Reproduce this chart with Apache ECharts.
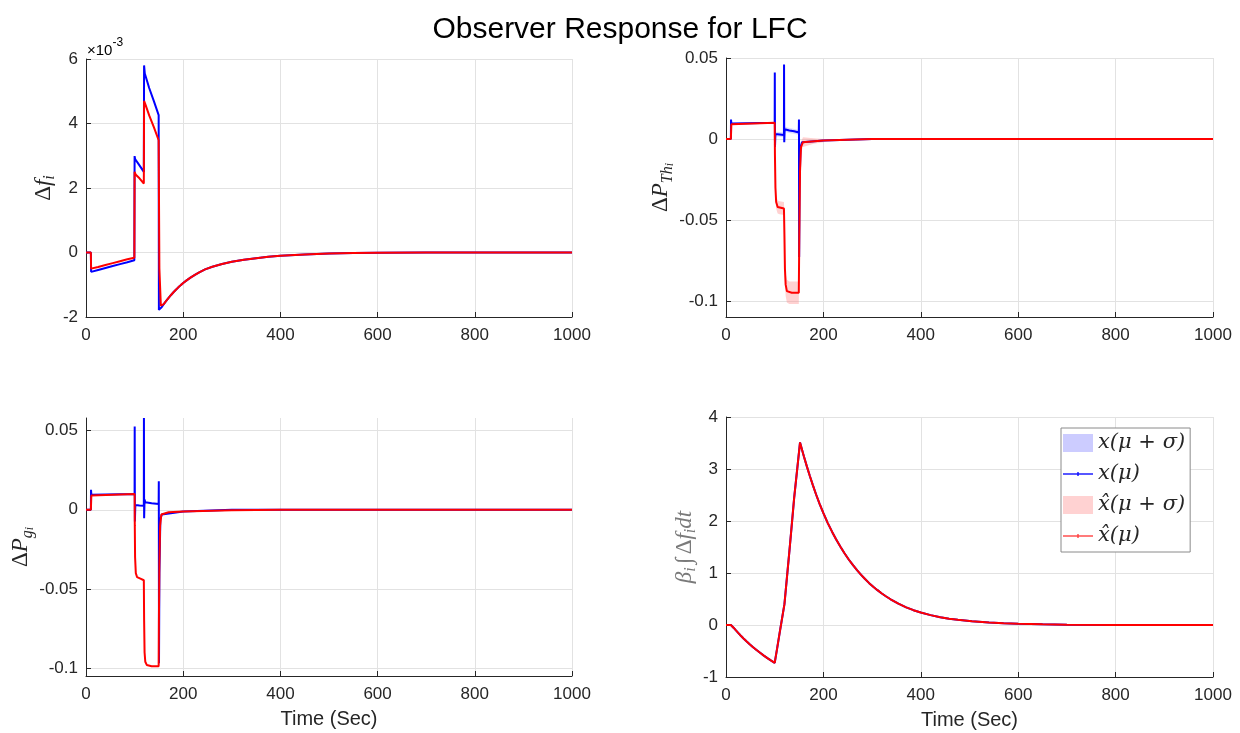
<!DOCTYPE html>
<html>
<head>
<meta charset="utf-8">
<title>Observer Response for LFC</title>
<script src="https://cdn.jsdelivr.net/npm/echarts@6/dist/echarts.min.js"></script>
<style>
  html, body { margin: 0; padding: 0; background: #ffffff; }
  #chart { width: 1240px; height: 733px; }
</style>
</head>
<body>
<div id="chart"></div>
<script>
// ---------- data: [time (s), value] ----------

// Frequency deviation, in units of 1e-3
const freqTrue = [[0,0],[10,0],[10.5,-0.6],[25,-0.54],[40,-0.48],[55,-0.42],[70,-0.36],[85,-0.30],[99.5,-0.24],
  [100,2.99],[101,2.9],[103,2.85],[110,2.7],[119,2.5],[119.5,5.8],[121,5.55],[130,5.1],[140,4.68],[149.5,4.26],
  [150,-1.78],[152,-1.76],[156,-1.69],[160,-1.603],[165,-1.50],[170,-1.406],[175,-1.317],[180,-1.233],[185,-1.154],
  [190,-1.081],[195,-1.012],[200,-0.948],[207,-0.864],[215,-0.778],[224,-0.692],[233,-0.614],[245,-0.523],
  [260,-0.44],[280,-0.355],[300,-0.29],[325,-0.225],[350,-0.175],[375,-0.135],[400,-0.104],[450,-0.06],
  [500,-0.034],[550,-0.019],[600,-0.01],[700,-0.003],[800,0],[1000,0]];
const freqEst = [[0,0],[10,0],[10.5,-0.5],[25,-0.45],[40,-0.39],[55,-0.33],[70,-0.27],[85,-0.21],[99.5,-0.16],
  [100,2.5],[102,2.42],[110,2.3],[119,2.14],[119.5,4.7],[122,4.6],[130,4.25],[140,3.87],[149.5,3.48],
  [151,-0.5],[154,-1.65],[156,-1.69],[160,-1.603],[165,-1.50],[170,-1.406],[175,-1.317],[180,-1.233],[185,-1.154],
  [190,-1.081],[195,-1.012],[200,-0.948],[207,-0.864],[215,-0.778],[224,-0.692],[233,-0.614],[245,-0.523],
  [260,-0.44],[280,-0.355],[300,-0.29],[325,-0.225],[350,-0.175],[375,-0.135],[400,-0.104],[450,-0.06],
  [500,-0.034],[550,-0.019],[600,-0.01],[700,-0.003],[800,0],[1000,0]];

// Turbine output deviation
const turbTrue = [[0,0],[10,0],[10.3,0.012],[11,0.0095],[13,0.01],[100,0.01],[100.2,0.041],[100.6,-0.005],
  [101.5,0.003],[110,0.0028],[119,0.0025],[119.2,0.046],[119.6,-0.002],[120.5,0.006],[130,0.0052],[140,0.0047],
  [149.5,0.004],[149.8,0.012],[150.2,-0.073],[151,-0.03],[153,-0.005],[156,-0.002],[200,-0.001],[300,0],[1000,0]];
const turbEst = [[0,0],[10,0],[11,0.009],[13,0.01],[100,0.01],[100.5,-0.01],[101.5,-0.03],[103,-0.039],[106,-0.042],
  [119,-0.043],[120,-0.06],[121,-0.08],[122.5,-0.09],[125,-0.094],[135,-0.095],[149.5,-0.095],[150.5,-0.06],
  [152,-0.02],[154,-0.005],[158,-0.002],[200,-0.001],[300,0],[1000,0]];

// Turbine output spread (mean ± sigma)
const turbEstBandT  = [100,101,103,106,110,119,120,121,122.5,125,130,135,140,145,149.5,150.5,152,154,158,180,200];
const turbEstBandHi = [0.012,-0.024,-0.035,-0.038,-0.0385,-0.039,-0.055,-0.073,-0.083,-0.087,-0.088,-0.088,-0.088,-0.088,-0.088,-0.052,-0.016,-0.002,0.001,0.0005,0];
const turbEstBandLo = [0.008,-0.032,-0.043,-0.046,-0.0465,-0.047,-0.065,-0.087,-0.097,-0.101,-0.102,-0.102,-0.102,-0.102,-0.102,-0.068,-0.024,-0.008,-0.005,-0.003,-0.002];
const turbTrueBandT  = [101.5,110,119,120.5,130,140,149.5];
const turbTrueBandHi = [0.0045,0.0043,0.004,0.0075,0.0067,0.0062,0.0055];
const turbTrueBandLo = [0.0015,0.0013,0.001,0.0045,0.0037,0.0032,0.0025];

// Governor output deviation
const govTrue = [[0,0],[10,0],[10.3,0.0127],[11,0.0095],[13,0.01],[100,0.01],[100.2,0.0527],[100.6,-0.0074],
  [101.5,0.003],[110,0.0027],[119,0.0025],[119.2,0.058],[119.6,-0.0053],[120.5,0.0065],[122,0.0048],[135,0.0042],
  [149.5,0.0036],[149.8,0.018],[150.2,-0.097],[151,-0.04],[153,-0.006],[156,-0.003],[200,-0.001],[300,0],[1000,0]];
const govEst = [[0,0],[10,0],[11,0.009],[13,0.01],[100,0.01],[100.4,-0.01],[101,-0.03],[102.5,-0.040],[105,-0.0425],
  [112,-0.0435],[119,-0.0445],[119.6,-0.07],[120.5,-0.09],[122,-0.096],[125,-0.098],[135,-0.0988],[149.5,-0.0988],
  [150,-0.07],[151,-0.035],[152.5,-0.01],[155,-0.003],[170,-0.0015],[200,-0.001],[300,-0.0003],[400,0],[1000,0]];

// Integral of frequency deviation
const integState = [[0,0],[10,0],[13,-0.025],[16,-0.057],[20,-0.10],[25,-0.152],[30,-0.202],[36,-0.259],[42,-0.313],
  [48,-0.365],[55,-0.422],[62,-0.476],[70,-0.535],[77,-0.584],[85,-0.637],[92,-0.681],[100,-0.729],[105,-0.45],
  [110,-0.16],[115,0.12],[120,0.4],[125,0.9],[130,1.4],[135,1.92],[140,2.45],[146,2.98],[152,3.51],[160,3.24],
  [166,3.05],[172,2.87],[178,2.70],[185,2.51],[192,2.335],[200,2.15],[209,1.96],[218,1.79],[226,1.65],[235,1.505],
  [243,1.385],[252,1.26],[260,1.16],[269,1.055],[277,0.97],[285,0.89],[294,0.805],[303,0.73],[311,0.67],[320,0.605],
  [329,0.548],[338,0.495],[354,0.41],[370,0.34],[385,0.285],[400,0.24],[420,0.19],[440,0.15],[458,0.122],[476,0.10],
  [505,0.072],[540,0.048],[570,0.034],[600,0.024],[650,0.013],[700,0.007],[800,0.002],[900,0],[1000,0]];

// axis ticks
const timeTicks = { min: 0, max: 1000, step: 200 };

// ---------- styling ----------
const AXIS_COLOR = '#262626';
const GRID_COLOR = '#e2e2e2';
const SANS = 'Liberation Sans, Arial, Helvetica, sans-serif';
const SERIF = 'Liberation Serif, DejaVu Serif, serif';
const NAME_TRUE = 'x(μ)';
const NAME_EST = 'x\u0302(μ)';
const NAME_TRUE_BAND = 'x(μ + σ)';
const NAME_EST_BAND = 'x\u0302(μ + σ)';

function mathRich(color) {
  return {
    d:  { fontFamily: SERIF, fontSize: 23, lineHeight: 28, color },
    v:  { fontFamily: SERIF, fontStyle: 'italic', fontSize: 23, lineHeight: 28, color },
    s:  { fontFamily: SERIF, fontStyle: 'italic', fontSize: 16, lineHeight: 12, verticalAlign: 'bottom', color },
    ss: { fontFamily: SERIF, fontStyle: 'italic', fontSize: 12, lineHeight: 4, verticalAlign: 'bottom', color }
  };
}

const grids = [
  { left: 86,  top: 59,  width: 486, height: 258 },
  { left: 726, top: 58,  width: 487, height: 259 },
  { left: 86,  top: 418, width: 486, height: 258 },
  { left: 726, top: 417, width: 487, height: 260 }
];

const plainNumber = v => String(v);

function xAxisFor(gridIndex, showName) {
  return {
    type: 'value', gridIndex,
    min: timeTicks.min, max: timeTicks.max, interval: timeTicks.step,
    name: showName ? 'Time (Sec)' : '',
    nameLocation: 'middle', nameGap: 33,
    nameTextStyle: { fontFamily: SANS, fontSize: 20, color: AXIS_COLOR },
    axisLine: { onZero: false, lineStyle: { color: AXIS_COLOR, width: 1 } },
    axisTick: { inside: true, length: 5, lineStyle: { color: AXIS_COLOR } },
    axisLabel: { fontFamily: SANS, fontSize: 17, color: AXIS_COLOR, margin: 10, formatter: plainNumber },
    splitLine: { show: true, lineStyle: { color: GRID_COLOR, width: 1 } }
  };
}

function yAxisFor(gridIndex, extra) {
  return Object.assign({
    type: 'value', gridIndex,
    nameLocation: 'middle', nameRotate: 90,
    axisLine: { onZero: false, lineStyle: { color: AXIS_COLOR, width: 1 } },
    axisTick: { inside: true, length: 5, lineStyle: { color: AXIS_COLOR } },
    splitLine: { show: true, lineStyle: { color: GRID_COLOR, width: 1 } }
  }, extra);
}

const labelBase = { fontFamily: SANS, fontSize: 17, color: AXIS_COLOR, margin: 8, formatter: plainNumber };

function lineSeries(name, data, color, idx, z) {
  return {
    type: 'line', name, data, xAxisIndex: idx, yAxisIndex: idx,
    showSymbol: false, symbol: 'circle', symbolSize: 3,
    lineStyle: { color, width: 2 }, itemStyle: { color },
    z, animation: false
  };
}

function bandSeries(name, t, lo, hi, color, idx) {
  return {
    type: 'custom', name, xAxisIndex: idx, yAxisIndex: idx,
    data: t.map((x, i) => [x, lo[i], hi[i]]),
    encode: { x: 0, y: [1, 2] },
    itemStyle: { color },
    z: 1, animation: false, silent: true,
    renderItem: function (params, api) {
      if (params.dataIndex !== 0) return null;
      const pts = [];
      for (let i = 0; i < t.length; i++) pts.push(api.coord([t[i], hi[i]]));
      for (let i = t.length - 1; i >= 0; i--) pts.push(api.coord([t[i], lo[i]]));
      return { type: 'polygon', shape: { points: pts }, style: { fill: color } };
    }
  };
}

const LINE_ICON = 'path://M0,1 L30,1 L30,2.4 L0,2.4 Z M14,0 L16,0 L16,3.4 L14,3.4 Z';

const option = {
  backgroundColor: '#ffffff',
  animation: false,
  title: {
    text: 'Observer Response for LFC', left: 'center', top: 10,
    textStyle: { fontFamily: SANS, fontSize: 30, fontWeight: 'normal', color: '#000000' }
  },
  legend: {
    left: 1061, top: 428, orient: 'vertical',
    backgroundColor: '#ffffff', borderColor: '#8a8a8a', borderWidth: 1,
    padding: [2, 5, 3, 2], itemGap: 5, itemWidth: 30, itemHeight: 18,
    selectedMode: false,
    textStyle: { fontFamily: 'DejaVu Serif, serif', fontStyle: 'italic', fontSize: 21, lineHeight: 26, color: '#262626' },
    data: [
      { name: NAME_TRUE_BAND, icon: 'rect', itemStyle: { color: '#ccccff' } },
      { name: NAME_TRUE, icon: LINE_ICON, itemStyle: { color: '#2020ff' } },
      { name: NAME_EST_BAND, icon: 'rect', itemStyle: { color: '#ffd2d2' } },
      { name: NAME_EST, icon: LINE_ICON, itemStyle: { color: '#ff5050' } }
    ]
  },
  grid: grids,
  xAxis: [xAxisFor(0, false), xAxisFor(1, false), xAxisFor(2, true), xAxisFor(3, true)],
  yAxis: [
    yAxisFor(0, {
      min: -2, max: 6, interval: 2,
      name: '{d|Δ}{v|f}{s|i}', nameGap: 28,
      nameTextStyle: { rich: mathRich(AXIS_COLOR) },
      axisLabel: labelBase
    }),
    yAxisFor(1, {
      min: -0.11, max: 0.05, splitNumber: 3,
      name: '{d|Δ}{v|P}{s|Th}{ss|i}', nameGap: 48,
      nameTextStyle: { rich: mathRich(AXIS_COLOR) },
      axisLabel: Object.assign({ showMinLabel: false }, labelBase),
      splitLine: { show: true, showMinLine: false, lineStyle: { color: GRID_COLOR, width: 1 } }
    }),
    yAxisFor(2, {
      min: -0.105, max: 0.058, splitNumber: 3,
      name: '{d|Δ}{v|P}{s|g}{ss|i}', nameGap: 48,
      nameTextStyle: { rich: mathRich(AXIS_COLOR) },
      axisLabel: Object.assign({ showMinLabel: false, showMaxLabel: false }, labelBase),
      splitLine: { show: true, showMinLine: false, showMaxLine: false, lineStyle: { color: GRID_COLOR, width: 1 } }
    }),
    yAxisFor(3, {
      min: -1, max: 4, interval: 1,
      name: '{v|β}{s|i} {d|∫} {d|Δ}{v|f}{s|i}{v|dt}', nameGap: 27,
      nameTextStyle: { rich: mathRich('#7a7a7a') },
      axisLabel: labelBase
    })
  ],
  graphic: [
    {
      type: 'text', left: 87, top: 37, silent: true,
      style: {
        text: '{a|×10}{b|-3}',
        rich: {
          a: { fontFamily: SANS, fontSize: 15, lineHeight: 18, color: AXIS_COLOR },
          b: { fontFamily: SANS, fontSize: 12, lineHeight: 28, verticalAlign: 'top', color: AXIS_COLOR }
        }
      }
    }
  ],
  series: [
    lineSeries(NAME_TRUE, freqTrue, '#0000ff', 0, 3),
    lineSeries(NAME_EST, freqEst, '#ff0000', 0, 4),

    bandSeries(NAME_TRUE_BAND, turbTrueBandT, turbTrueBandLo, turbTrueBandHi, 'rgba(150,150,255,0.35)', 1),
    bandSeries(NAME_EST_BAND, turbEstBandT, turbEstBandLo, turbEstBandHi, 'rgba(255,140,140,0.40)', 1),
    lineSeries(NAME_TRUE, turbTrue, '#0000ff', 1, 3),
    lineSeries(NAME_EST, turbEst, '#ff0000', 1, 4),

    lineSeries(NAME_TRUE, govTrue, '#0000ff', 2, 3),
    lineSeries(NAME_EST, govEst, '#ff0000', 2, 4),

    lineSeries(NAME_TRUE, integState, '#0000ff', 3, 3),
    lineSeries(NAME_EST, integState, '#ff0000', 3, 4)
  ]
};

const chart = echarts.init(document.getElementById('chart'), null, { renderer: 'canvas' });
chart.setOption(option);
</script>
</body>
</html>
